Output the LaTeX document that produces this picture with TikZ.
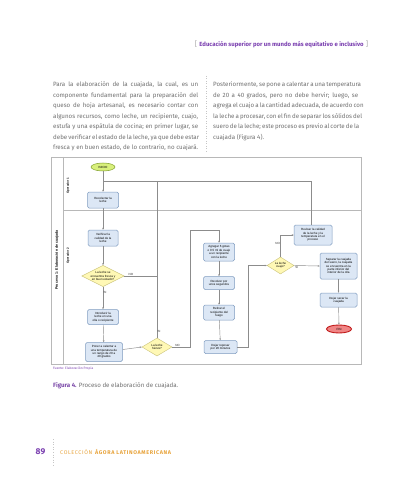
\documentclass[tikz,border=0pt]{standalone}
\usepackage{fontspec}
\setmainfont{Fira Sans}
\newfontfamily\chartfont{Liberation Sans}
\usetikzlibrary{shapes.geometric,arrows.meta}
\definecolor{purp}{HTML}{7A3FB0}
\definecolor{bodygray}{HTML}{707070}
\definecolor{gold}{HTML}{E8A33A}
\definecolor{boxfill}{HTML}{DCE7F5}
\definecolor{boxline}{HTML}{7F9CC0}
\definecolor{dfill}{HTML}{FFF8B5}
\definecolor{dline}{HTML}{C9C27A}
\definecolor{gfill}{HTML}{D8EF7C}
\definecolor{gline}{HTML}{7F9E2A}
\definecolor{rfill}{HTML}{F08585}
\definecolor{rline}{HTML}{C01818}
\definecolor{conn}{HTML}{8C8C8C}
\definecolor{frame}{HTML}{B8B8B8}
\newcommand{\jl}[1]{\makebox[145bp][s]{#1}}
\tikzset{
  bodyline/.style={anchor=west, inner sep=0pt, text=bodygray, font=\fontsize{6.2}{7}\selectfont},
  chart/.style={font=\chartfont\fontsize{3}{3.4}\selectfont, align=center, inner sep=0.4bp},
  pbox/.style={chart, draw=boxline, fill=boxfill, rounded corners=1.5bp, line width=0.5bp},
  dec/.style={chart, diamond, aspect=2, draw=dline, fill=dfill, line width=0.4bp, inner sep=0bp},
  con/.style={draw=conn, line width=0.45bp},
  arr/.style={con, -{Stealth[length=2bp,width=1.6bp]}},
  lbl/.style={font=\chartfont\fontsize{3}{3.4}\selectfont, text=black!80, inner sep=0.3bp},
}
\begin{document}
\begin{tikzpicture}[x=1bp,y=-1bp]
\useasboundingbox (0,0) rectangle (411,480);
\fill[white] (0,0) rectangle (411,480);
% header
\node[inner sep=0pt, text=gray!70, font=\fontsize{7}{8}\selectfont] (lb) at (196,44) {[};
\node[inner sep=0pt, text=purp, font=\fontsize{6}{7}\selectfont\bfseries] (hdr) at (281.5,44.5) {Educación superior por un mundo más equitativo e inclusivo};
\node[inner sep=0pt, text=gray!70, font=\fontsize{7}{8}\selectfont] (rb) at (367,44) {]};
% left paragraph
\node[bodyline] (l1) at (53,85) {\jl{Para la elaboración de la cuajada, la cual, es un}};
\node[bodyline] (l2) at (53,95.5) {\jl{componente fundamental para la preparación del}};
\node[bodyline] (l3) at (53,106) {\jl{queso de hoja artesanal, es necesario contar con}};
\node[bodyline] (l4) at (53,116.5) {\jl{algunos recursos, como leche, un recipiente, cuajo,}};
\node[bodyline] (l5) at (53,127) {\jl{estufa y una espátula de cocina; en primer lugar, se}};
\node[bodyline] (l6) at (53,137.5) {\jl{debe verificar el estado de la leche, ya que debe estar}};
\node[bodyline] (l7) at (53,148) {\jl{fresca y en buen estado, de lo contrario, no cuajará.}};
% right paragraph
\node[bodyline] (r1) at (213,85) {\jl{Posteriormente, se pone a calentar a una temperatura}};
\node[bodyline] (r2) at (213,95.5) {\jl{de 20 a 40 grados, pero no debe hervir; luego, se}};
\node[bodyline] (r3) at (213,106) {\jl{agrega el cuajo a la cantidad adecuada, de acuerdo con}};
\node[bodyline] (r4) at (213,116.5) {\jl{la leche a procesar, con el fin de separar los sólidos del}};
\node[bodyline] (r5) at (213,127) {\jl{suero de la leche; este proceso es previo al corte de la}};
\node[bodyline] (r6) at (213,137.5) {cuajada (Figura 4).};
\draw[gray!45, line width=0.5bp, dotted] (206,76) -- (206,151);
% flowchart frame
\draw[frame, line width=0.6bp] (51,157) rectangle (361,364);
\draw[frame, line width=0.6bp] (63,157) -- (63,364);
\draw[frame, line width=0.6bp] (63,210) -- (361,210);
\node[rotate=90, font=\chartfont\fontsize{3.6}{4}\selectfont\bfseries, inner sep=0pt] (proc) at (57,260) {Proceso 1: Elaboración de cuajada};
\node[rotate=90, font=\chartfont\fontsize{3}{3.4}\selectfont\bfseries, inner sep=0pt] (op1) at (68,186) {Operador 1};
\node[rotate=90, font=\chartfont\fontsize{3}{3.4}\selectfont\bfseries, inner sep=0pt] (op2) at (68,256) {Operador 2};
% nodes
\node[chart, ellipse, draw=gline, fill=gfill, line width=0.5bp, minimum width=24bp, minimum height=8bp] (inicio) at (103,167) {INICIO};
\node[pbox, minimum width=31bp, minimum height=16bp] (recol) at (103,200) {Recolectar la\\leche};
\node[pbox, minimum width=30bp, minimum height=16bp] (verif) at (103,238) {Verificar la\\calidad de la\\leche};
\node[dec, minimum width=36bp, minimum height=21bp] (fresca) at (103,276) {La leche se\\encuentra fresca y\\en buen estado?};
\node[pbox, minimum width=31bp, minimum height=15bp] (intro) at (103,317) {Introducir la\\leche en una\\olla o recipiente};
\node[pbox, minimum width=37bp, minimum height=19bp] (poner) at (104,352) {Poner a calentar a\\una temperatura de\\un rango de 20 a\\40 grados};
\node[dec, minimum width=30bp, minimum height=18bp] (hierve) at (157,347) {La leche\\hierve?};
\node[pbox, minimum width=31bp, minimum height=18bp] (agreg) at (219,252) {Agregar 6 gotas\\o 0.5 ml de cuajo\\a un recipiente\\con la leche};
\node[pbox, minimum width=31bp, minimum height=13bp] (revol) at (219,283) {Revolver por\\unos segundos};
\node[pbox, minimum width=31bp, minimum height=15bp] (retir) at (219,312.5) {Retirar el\\recipiente del\\fuego};
\node[pbox, minimum width=33bp, minimum height=13bp] (repos) at (220.5,347) {Dejar reposar\\por 20 minutos};
\node[dec, minimum width=27bp, minimum height=17bp] (cuajo) at (280.5,265.5) {La leche\\cuajo?};
\node[pbox, minimum width=38bp, minimum height=20bp] (revis) at (313,235) {Revisar la calidad\\de la leche y la\\temperatura en el\\proceso};
\node[pbox, minimum width=37bp, minimum height=26bp] (separ) at (338.5,266) {Separar la cuajada\\del suero, la cuajada\\se encuentra en la\\parte inferior del\\interior de la olla};
\node[pbox, minimum width=37bp, minimum height=14bp] (secar) at (338.5,300) {Dejar secar la\\cuajada};
\node[chart, ellipse, draw=rline, fill=rfill, line width=0.9bp, minimum width=25bp, minimum height=8bp] (fin) at (339,329) {FIN};
\coordinate (top1) at (103,181);
\coordinate (topm) at (190,230);
\coordinate (rep1) at (248,347);
% connectors
\draw[arr] (inicio) -- (recol);
\draw[arr] (recol) -- (verif);
\draw[arr] (verif) -- (fresca);
\draw[arr] (fresca) -- node[lbl, right, pos=0.25] {SI} (intro);
\draw[arr] (intro) -- (poner);
\draw[arr] (poner) -- (hierve.west);
\draw[con] (hierve.north) -- node[lbl, right, pos=0.04] {SI} (hierve.north |- top1) -- (top1);
\draw[con] (fresca.east) -- node[lbl, above, pos=0.2] {NO} (fresca.east -| hierve.north);
\draw[arr] (hierve.east) -- node[lbl, above, pos=0.3] {NO} (hierve.east -| topm) -- (topm) -- (topm -| agreg.north) -- (agreg.north);
\draw[arr] (agreg) -- (revol);
\draw[arr] (revol) -- (retir);
\draw[arr] (retir) -- (repos);
\draw[arr] (repos.east) -- (rep1) |- (cuajo.west);
\draw[arr] (cuajo.north) |- node[lbl, left, pos=0.3] {NO} (revis.west);
\draw[arr] (cuajo.east) -- node[lbl, below, pos=0.1] {SI} (separ.west);
\draw[con] (revis.north -| 311,0) -- (311,181) -- (top1);
\draw[arr] (separ) -- (secar);
\draw[arr] (secar) -- (fin);
% captions
\node[anchor=west, inner sep=0pt, text=purp, font=\fontsize{3.3}{4}\selectfont] (fuente) at (53,369) {Fuente: Elaboración Propia};
\node[anchor=west, inner sep=0pt, font=\fontsize{6.2}{7}\selectfont] (fig) at (53,385.5) {\textcolor{purp!85!gray}{\bfseries Figura 4.} \textcolor{bodygray}{Proceso de elaboración de cuajada.}};
% footer
\node[inner sep=0pt, text=purp, font=\fontsize{8.5}{9}\selectfont\bfseries] (pg) at (40.5,452) {89};
\draw[gray!45, line width=0.6bp, dotted] (53,439) -- (53,465);
\node[anchor=west, inner sep=0pt, text=gold, font=\fontsize{5.4}{6}\selectfont] (coll) at (60,452) {\addfontfeatures{LetterSpace=12}COLECCIÓN \textbf{ÁGORA LATINOAMERICANA}};
\end{tikzpicture}
\end{document}
